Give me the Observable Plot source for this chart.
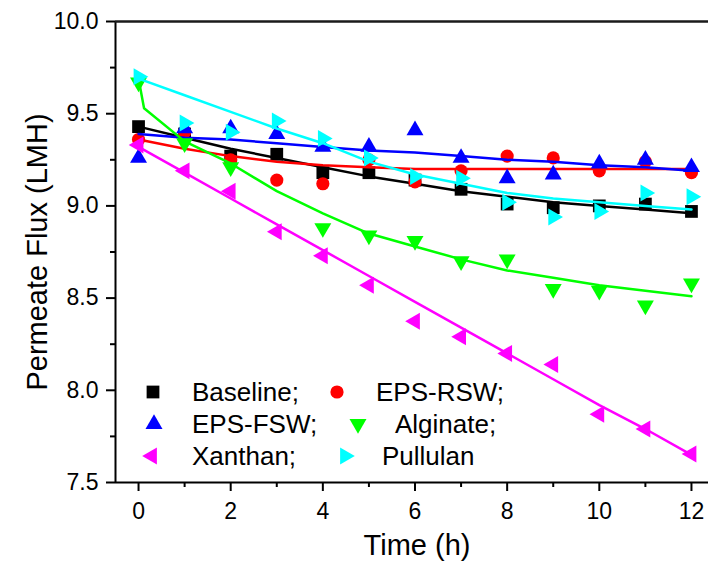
<!DOCTYPE html>
<html>
<head>
<meta charset="utf-8">
<script src="https://cdn.jsdelivr.net/npm/d3@7"></script>
<script src="https://cdn.jsdelivr.net/npm/@observablehq/plot@0.6"></script>
<style>
  body { margin: 0; background: #fff; }
  #chart { position: relative; width: 708px; height: 575px; overflow: hidden; }
  #chart svg { font-family: "Liberation Sans", Arial, sans-serif; }
</style>
</head>
<body>
<div id="chart"></div>
<script>
// ---------- data ----------
const seriesNames = ["Baseline", "EPS-RSW", "EPS-FSW", "Alginate", "Xanthan", "Pullulan"];

const times = [0, 1, 2, 3, 4, 5, 6, 7, 8, 9, 10, 11, 12];
const alginateTimes = [0, 1, 2, 4, 5, 6, 7, 8, 9, 10, 11, 12];

const baseline = [9.43, 9.39, 9.27, 9.28, 9.18, 9.18, 9.14, 9.09, 9.01, 8.99, 9.00, 9.01, 8.97];
const epsRSW   = [9.36, 9.40, 9.25, 9.14, 9.12, 9.25, 9.13, 9.19, 9.27, 9.26, 9.19, 9.24, 9.18];
const epsFSW   = [9.26, 9.42, 9.42, 9.39, 9.32, 9.32, 9.41, 9.26, 9.15, 9.17, 9.23, 9.25, 9.21];
const alginate = [9.67, 9.34, 9.21, 8.88, 8.84, 8.81, 8.70, 8.71, 8.55, 8.54, 8.46, 8.58];
const xanthan  = [9.33, 9.19, 9.08, 8.86, 8.73, 8.57, 8.375, 8.29, 8.20, 8.14, 7.87, 7.79, 7.655];
const pullulan = [9.70, 9.45, 9.40, 9.46, 9.365, 9.26, 9.16, 9.15, 9.02, 8.94, 8.97, 9.07, 9.05];

// fitted curves
const fitTimes = [0, 1, 2, 3, 4, 5, 6, 7, 8, 9, 10, 11, 12];
const alginateFitTimes = [0, 0.12, 1, 2, 3, 4, 5, 6, 7, 8, 9, 10, 11, 12];
const baselineFit = [9.43, 9.37, 9.31, 9.26, 9.21, 9.16, 9.12, 9.08, 9.05, 9.02, 9.00, 8.98, 8.96];
const epsRSWFit   = [9.36, 9.31, 9.27, 9.24, 9.22, 9.21, 9.20, 9.20, 9.20, 9.20, 9.20, 9.20, 9.20];
const epsFSWFit   = [9.39, 9.37, 9.36, 9.34, 9.32, 9.30, 9.29, 9.27, 9.25, 9.24, 9.22, 9.21, 9.19];
const alginateFit = [9.69, 9.53, 9.35, 9.23, 9.08, 8.96, 8.85, 8.78, 8.71, 8.65, 8.61, 8.57, 8.54, 8.51];
const xanthanFit  = [9.32, 9.18, 9.04, 8.90, 8.76, 8.62, 8.48, 8.34, 8.20, 8.06, 7.92, 7.79, 7.65];
const pullulanFit = [9.69, 9.60, 9.51, 9.42, 9.34, 9.24, 9.17, 9.12, 9.07, 9.04, 9.02, 9.00, 8.98];

const xMajorTicks = [0, 2, 4, 6, 8, 10, 12];
const xMinorTicks = [1, 3, 5, 7, 9, 11];
const yMajorTicks = [7.5, 8.0, 8.5, 9.0, 9.5, 10.0];
const yMinorTicks = [7.75, 8.25, 8.75, 9.25, 9.75];

const xLabel = "Time (h)";
const yLabel = "Permeate Flux (LMH)";
const legendLabels = ["Baseline;", "EPS-RSW;", "EPS-FSW;", "Alginate;", "Xanthan;", "Pullulan"];

// ---------- styles ----------
const styles = {
  "Baseline": { color: "#000000", symbol: "square",   rotate: 0,   r: 7.2 },
  "EPS-RSW":  { color: "#ff0000", symbol: "circle",   rotate: 0,   r: 6.6 },
  "EPS-FSW":  { color: "#0000ff", symbol: "triangle", rotate: 0,   r: 6.3 },
  "Alginate": { color: "#00ff00", symbol: "triangle", rotate: 180, r: 6.3 },
  "Xanthan":  { color: "#ff00ff", symbol: "triangle", rotate: -90, r: 6.3 },
  "Pullulan": { color: "#00ffff", symbol: "triangle", rotate: 90,  r: 6.3 }
};

const pointSets = {
  "Baseline": [times, baseline], "EPS-RSW": [times, epsRSW], "EPS-FSW": [times, epsFSW],
  "Alginate": [alginateTimes, alginate], "Xanthan": [times, xanthan], "Pullulan": [times, pullulan]
};
const fitSets = {
  "Baseline": [fitTimes, baselineFit], "EPS-RSW": [fitTimes, epsRSWFit], "EPS-FSW": [fitTimes, epsFSWFit],
  "Alginate": [alginateFitTimes, alginateFit], "Xanthan": [fitTimes, xanthanFit], "Pullulan": [fitTimes, pullulanFit]
};
const toRows = ([ts, vs]) => ts.map((t, i) => ({ t, v: vs[i] }));

const seriesMarks = seriesNames.flatMap(name => {
  const s = styles[name];
  return [
    Plot.dot(toRows(pointSets[name]), { x: "t", y: "v", fill: s.color, symbol: s.symbol, rotate: s.rotate, r: s.r }),
    Plot.line(toRows(fitSets[name]), { x: "t", y: "v", stroke: s.color, strokeWidth: 2.5, curve: "linear" })
  ];
});

const tickFont = 23;
const titleFont = 29;

const chart = Plot.plot({
  width: 708,
  height: 575,
  marginLeft: 115,
  marginRight: 0,
  marginTop: 21,
  marginBottom: 93,
  x: { domain: [-0.5, 12.5], range: [115, 714] },
  y: { domain: [7.5, 10] },
  style: { fontFamily: '"Liberation Sans", Arial, sans-serif', color: "#000", background: "#fff", overflow: "visible" },
  marks: [
    Plot.axisX({ ticks: xMajorTicks, tickSize: 9, tickPadding: 11, fontSize: tickFont, label: null, strokeWidth: 2, tickFormat: d => String(d) }),
    Plot.axisX({ ticks: xMinorTicks, tickSize: 5, tickFormat: () => "", label: null, strokeWidth: 2 }),
    Plot.axisY({ ticks: yMajorTicks, tickSize: 9, tickPadding: 8, fontSize: tickFont, label: null, strokeWidth: 2, tickFormat: d3.format(".1f") }),
    Plot.axisY({ ticks: yMinorTicks, tickSize: 5, tickFormat: () => "", label: null, strokeWidth: 2 }),
    Plot.ruleX([-0.5], { stroke: "#000", strokeWidth: 2 }),
    Plot.ruleY([7.5], { stroke: "#000", strokeWidth: 2 }),
    Plot.ruleY([10], { stroke: "#1a1a1a", strokeWidth: 2.5 }),
    ...seriesMarks,
    Plot.text([xLabel], { frameAnchor: "bottom", dx: 5, dy: 72, fontSize: titleFont, fill: "#000" }),
    Plot.text([yLabel], { frameAnchor: "left", textAnchor: "middle", rotate: -90, dx: -78, fontSize: titleFont, fill: "#000" })
  ]
});

document.getElementById("chart").appendChild(chart);

// ---------- legend (inside the plot area, lower left) ----------
const legendLayout = [
  { cx: 153, tx: 192, row: 0 },
  { cx: 337, tx: 376, row: 0 },
  { cx: 154, tx: 192, row: 1 },
  { cx: 358, tx: 395, row: 1 },
  { cx: 152, tx: 192, row: 2 },
  { cx: 345, tx: 382, row: 2 }
];
const rowY = [392, 424, 456];
const symbolMap = { square: d3.symbolSquare, circle: d3.symbolCircle, triangle: d3.symbolTriangle };
const svg = d3.select(chart);
const lg = svg.append("g").attr("class", "legend").attr("text-anchor", "start");
seriesNames.forEach((name, i) => {
  const s = styles[name];
  const L = legendLayout[i];
  const y = rowY[L.row];
  lg.append("path")
    .attr("d", d3.symbol(symbolMap[s.symbol], Math.PI * s.r * s.r)())
    .attr("transform", `translate(${L.cx},${y}) rotate(${s.rotate})`)
    .attr("fill", s.color);
  lg.append("text")
    .attr("x", L.tx)
    .attr("y", y + 9)
    .attr("text-anchor", "start")
    .attr("font-size", 26)
    .attr("fill", "#000")
    .text(legendLabels[i]);
});
</script>
</body>
</html>
